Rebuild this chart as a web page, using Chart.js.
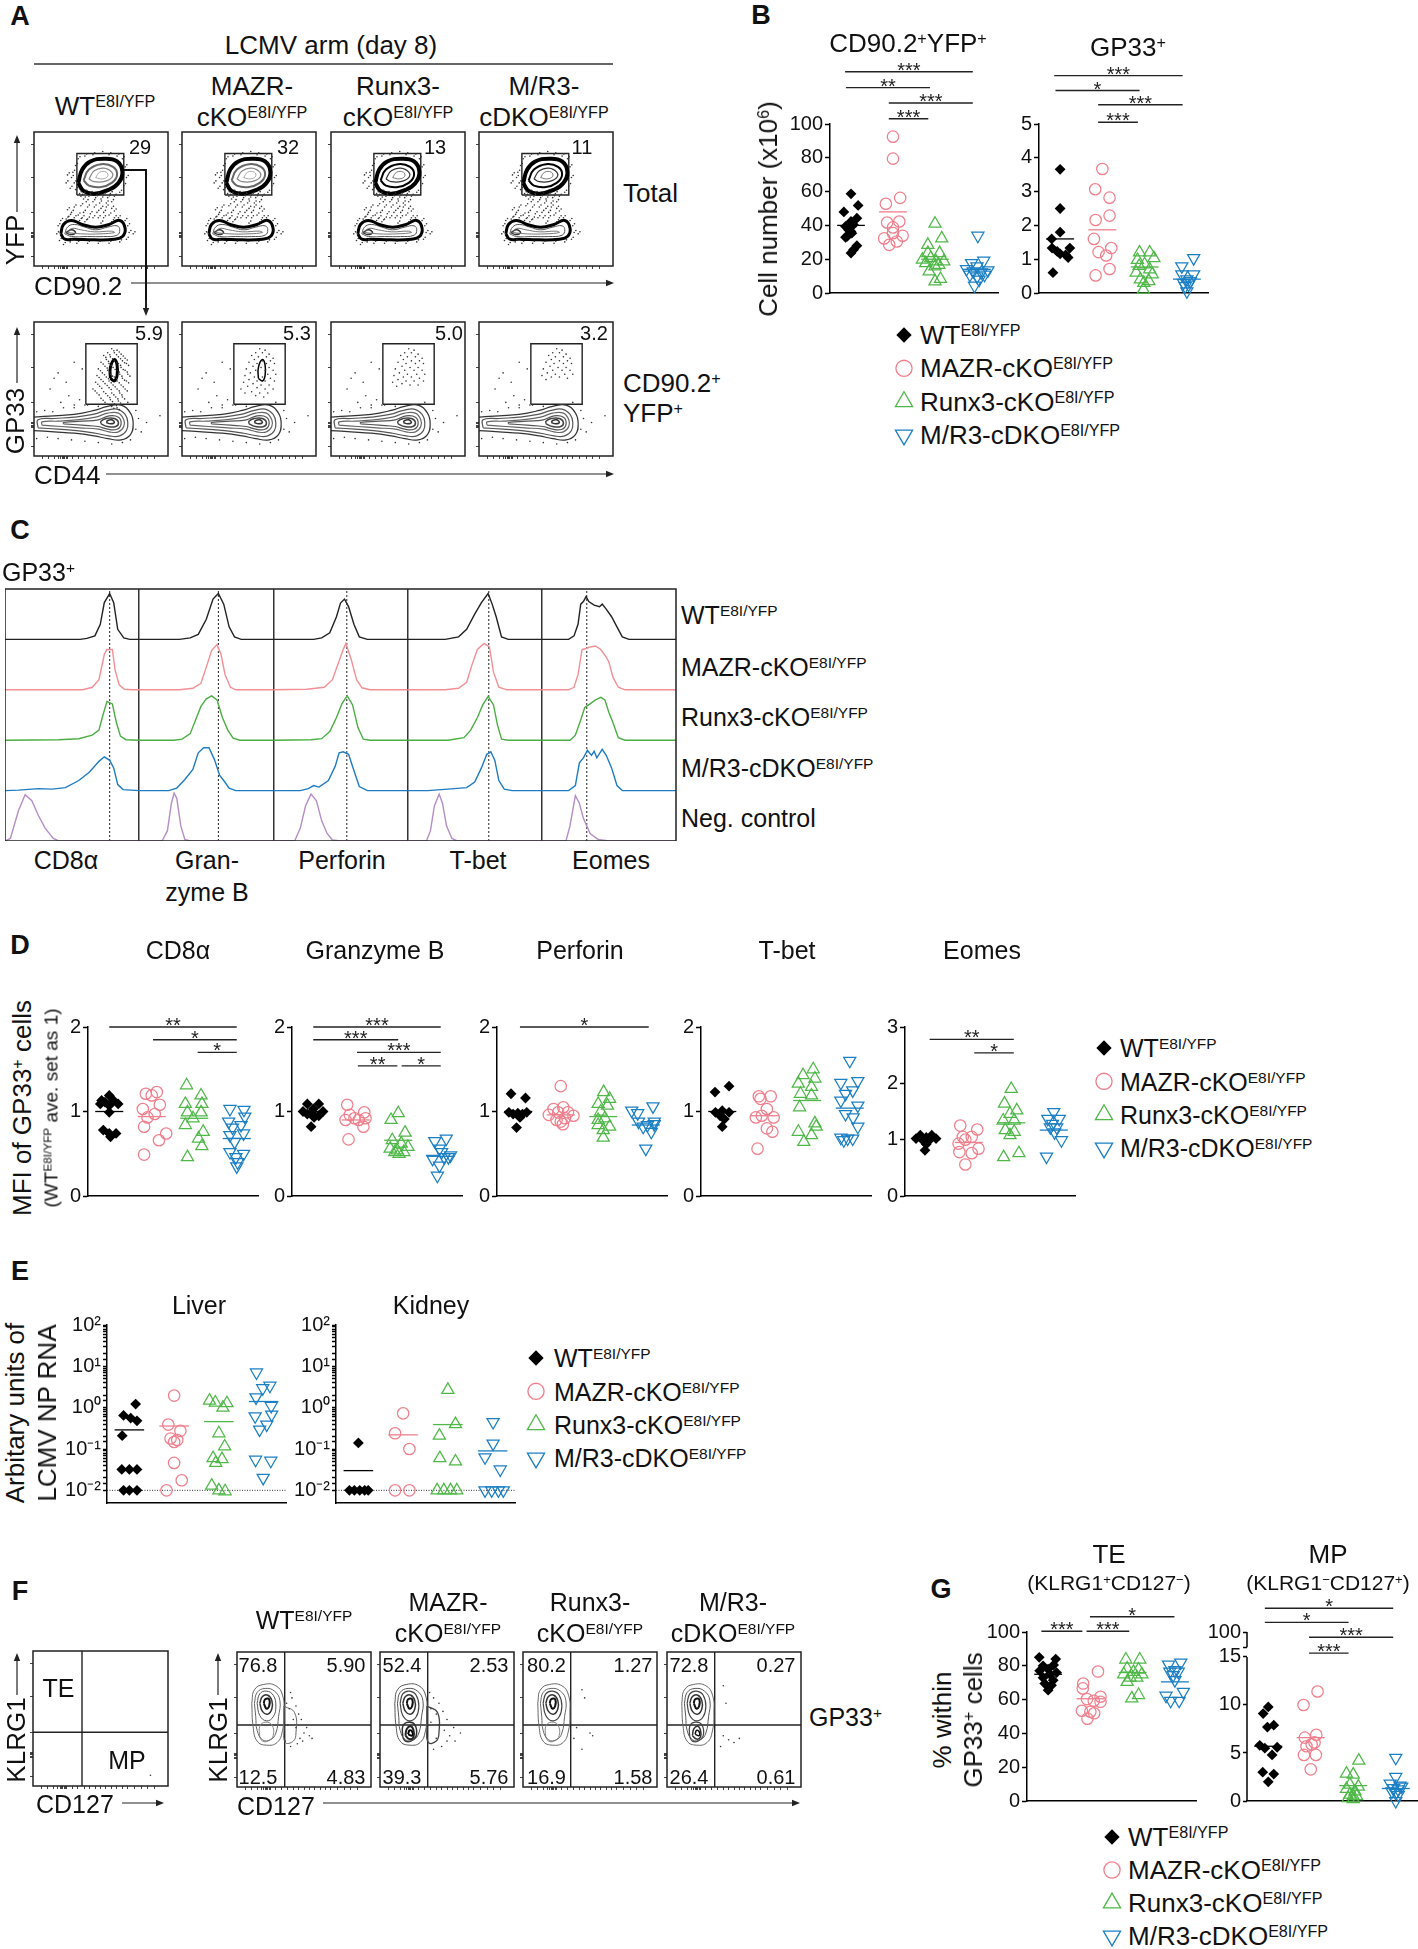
<!DOCTYPE html>
<html>
<head>
<meta charset="utf-8">
<title>LCMV arm figure</title>
<script src="https://cdn.jsdelivr.net/npm/chart.js@4/dist/chart.umd.min.js"></script>
<style>
  html, body { margin: 0; padding: 0; background: #fff; }
  #page { position: relative; width: 1418px; height: 1949px; overflow: hidden; font-family: "Liberation Sans", Arial, sans-serif; color: #111; }
  #page canvas { position: absolute; }
  #page svg { position: absolute; left: 0; top: 0; }
  .t { position: absolute; white-space: nowrap; line-height: 1; }
  .t sup { font-size: .62em; vertical-align: baseline; position: relative; top: -.5em; line-height: 0; }
</style>
</head>
<body>
<div id="page"></div>
<script>
// ---------- data: panel B, [offset from group centre, value] ----------
const bCellWt = [[0,58.7],[.17,51.8],[-.17,48],[.14,44.3],[0,42.3],[-.13,39.4],[.06,40.4],[-.06,37.4],[0,36.4],[-.09,33.5],[.02,35.4],[.14,28],[.06,25.6],[0,23.6],[-.13,33]];
const bCellMazr = [[0,92.5],[0,79.5],[.17,56.3],[-.17,52.8],[.15,42.3],[-.14,41.7],[0,38.8],[.23,33.9],[-.21,32.3],[.09,30.5],[-.09,28.5],[0,35.4]];
const bCellRunx = [[0,41],[.16,32.3],[-.17,28.5],[-.17,23.6],[.11,23.6],[-.3,19.7],[-.1,20.7],[.02,18.7],[.21,18.7],[-.22,17.7],[.09,16.7],[-.14,12.8],[.13,8.3],[0,6.9],[0,15.7]];
const bCellDko = [[.02,33.9],[-.13,17.7],[.16,19.1],[0,15.7],[-.25,14.2],[.26,13.4],[-.09,12.8],[.1,12.2],[-.17,10.8],[.18,10.8],[0,9.8],[-.06,4.3],[.05,7.9]];
const bCellMeans = [40,48,20,14];
const bCellSig = [[.86,3.9,130.9,'***'],[.88,2.88,121.5,'**'],[1.9,3.9,112.4,'***'],[1.9,2.84,103.1,'***']];
const bGpWt = [[0,3.66],[0,2.5],[0,1.8],[-.2,1.6],[-.19,1.33],[.23,1.33],[-.07,1.23],[.13,1.13],[.19,1.05],[0,1.16],[-.17,.6]];
const bGpMazr = [[0,3.67],[-.17,3.07],[.17,2.82],[.17,2.29],[-.16,2.16],[-.2,1.6],[.21,1.33],[-.09,1.21],[.09,1.11],[.17,.71],[-.16,.52]];
const bGpRunx = [[-.12,1.2],[.12,1.2],[.22,1.03],[-.17,.98],[0,.85],[-.13,.8],[.12,.7],[-.2,.6],[.18,.55],[-.1,.4],[.1,.35],[-.02,.3],[-.03,.1]];
const bGpDko = [[.16,1.03],[-.12,.79],[.16,.55],[-.12,.55],[0,.4],[.08,.35],[-.08,.3],[.04,.25],[0,.05],[-.04,.2]];
const bGpMeans = [1.6,1.87,.77,.41];
const bGpSig = [[.86,3.9,6.43,'***'],[.89,2.88,5.99,'*'],[1.9,3.9,5.57,'***'],[1.9,2.84,5.05,'***']];

// ---------- data: panel D ----------
const dCd8Wt = [[0,1.19],[-.18,1.13],[.21,1.09],[0,1.07],[-.1,1.11],[.1,1.13],[-.21,1.09],[0,.99],[-.14,.78],[0,.74],[.16,.74],[.03,.7]];
const dCd8Mazr = [[.12,1.23],[-.14,1.21],[0,1.19],[.19,1.08],[-.21,1.03],[.07,.97],[-.1,.93],[-.18,.82],[.34,.74],[.17,.66],[-.18,.49]];
const dCd8Runx = [[-.18,1.31],[.16,1.19],[-.21,1.09],[.18,1.09],[-.16,.99],[.16,.99],[-.03,.92],[-.21,.84],[.21,.76],[.1,.68],[.18,.59],[-.16,.46]];
const dCd8Dko = [[-.16,1.03],[.17,1.02],[.19,.94],[-.19,.88],[.1,.84],[-.1,.81],[-.16,.72],[.16,.74],[-.05,.64],[-.16,.52],[.16,.5],[-.02,.46],[.02,.4],[0,.35]];
const dCd8Means = [1,.94,.92,.68];
const dCd8Sig = [[1,4,2,'**'],[2.03,4,1.85,'*'],[3.08,4,1.7,'*']];
const dGzmWt = [[-.14,1.09],[.13,1.09],[0,1.03],[-.24,1],[.23,1],[-.03,.98],[.13,.95],[-.14,.97],[.02,.93],[-.05,.82]];
const dGzmMazr = [[-.2,1.08],[.2,.99],[-.14,.96],[-.03,.92],[.07,.9],[.23,.92],[-.24,.9],[.18,.82],[-.17,.67]];
const dGzmRunx = [[0,.98],[-.17,.9],[.16,.75],[-.14,.66],[.07,.62],[.23,.58],[-.19,.56],[-.08,.52],[.02,.5],[.13,.52],[-.03,.54]];
const dGzmDko = [[.13,.68],[-.14,.65],[-.03,.56],[.02,.52],[.18,.46],[-.19,.44],[.08,.46],[-.03,.36],[-.08,.24],[.23,.48]];
const dGzmMeans = [1,.9,.66,.47];
const dGzmSig = [[1,4,2,'***'],[1,3,1.85,'***'],[2.03,4,1.7,'***'],[2.05,2.98,1.54,'**'],[3.08,4,1.54,'*']];
const dPerfWt = [[-.17,1.21],[.17,1.16],[-.22,.99],[-.01,.98],[.2,.99],[-.12,.97],[.1,.97],[-.04,.81],[.04,.93]];
const dPerfMazr = [[0,1.3],[.06,1.05],[-.17,1.03],[-.06,.99],[.17,.99],[.3,.95],[-.28,.96],[.1,.92],[-.1,.9],[0,.88],[.05,.85]];
const dPerfRunx = [[.01,1.23],[.15,1.15],[-.12,1.09],[.1,1.07],[-.06,1],[-.12,.9],[.04,.92],[-.12,.84],[.15,.82],[0,.78],[0,.69]];
const dPerfDko = [[.17,1.06],[-.33,1.01],[-.19,.98],[.2,.88],[-.17,.88],[.04,.84],[-.06,.82],[.13,.76],[0,.56],[.2,.85]];
const dPerfMeans = [1,.96,.94,.84];
const dPerfSig = [[1.04,4.07,2,'*']];
const dTbetWt = [[.16,1.3],[-.17,1.23],[-.16,.99],[.16,.99],[0,1.01],[-.05,.95],[.05,.91],[0,.82]];
const dTbetMazr = [[-.14,1.18],[.14,1.18],[-.1,1.15],[.05,1.03],[-.21,.93],[.21,.93],[-.07,.95],[.05,.8],[.18,.76],[-.17,.56]];
const dTbetRunx = [[.14,1.5],[-.1,1.43],[.18,1.39],[-.21,1.33],[.1,1.29],[-.16,1.21],[.1,1.19],[-.18,1.05],[.18,.86],[.21,.82],[-.21,.76],[.1,.72],[-.08,.64]];
const dTbetDko = [[0,1.6],[-.21,1.34],[.19,1.36],[.07,1.25],[-.1,1.21],[-.21,1.13],[.19,1.07],[-.1,.97],[.08,.93],[.19,.82],[-.21,.69],[-.05,.68],[.07,.68],[-.14,.66]];
const dTbetMeans = [1,.95,1.13,1.04];
const dEomWt = [[-.14,1.08],[.13,1.08],[0,1.04],[-.24,1.02],[.23,1.02],[-.08,.99],[.07,.99],[-.03,.81],[0,.92]];
const dEomMazr = [[-.2,1.25],[.2,1.18],[-.14,1.05],[.07,1.05],[-.08,1],[-.24,.93],[.23,.84],[-.22,.78],[.07,.76],[-.08,.56]];
const dEomRunx = [[0,1.9],[-.16,1.64],[.13,1.52],[-.03,1.46],[-.19,1.34],[.07,1.34],[-.14,1.17],[.07,1.14],[-.03,1.08],[.18,.76],[-.18,.69]];
const dEomDko = [[0,1.49],[-.14,1.37],[.13,1.37],[-.03,1.28],[.07,1.22],[-.08,1.22],[.02,1.13],[.18,.99],[-.17,.7]];
const dEomMeans = [1,.95,1.3,1.17];
const dEomSig = [[1.08,3.06,2.78,'**'],[2.13,3.06,2.54,'*']];

// ---------- data: panel E ----------
const eLivWt = [[.14,1.22],[-.13,.65],[.03,.56],[.17,.48],[-.16,.21],[-.17,.032],[0,.032],[.17,.032],[-.13,.01],[0,.01],[.17,.01]];
const eLivMazr = [[0,1.96],[-.13,.39],[.14,.275],[-.08,.18],[.07,.165],[0,.148],[0,.046],[.17,.0175],[-.17,.01]];
const eLivRunx = [[-.21,1.48],[.18,1.28],[-.08,1.33],[.09,1],[0,.24],[.13,.115],[-.13,.06],[.07,.057],[-.07,.046],[-.16,.013],[0,.01],[.14,.0095]];
const eLivDko = [[-.16,7.1],[.14,3.4],[-.02,2.95],[-.17,1.77],[.17,1.1],[-.19,.62],[.18,.68],[.07,.39],[-.09,.295],[-.18,.055],[.16,.052],[-.01,.02]];
const eLivMeans = [.29,.36,.46,1.41];
const eKidWt = [[0,.14],[-.2,.01],[-.09,.01],[.03,.01],[.14,.01],[.22,.01]];
const eKidMazr = [[0,.73],[-.18,.24],[.14,.1],[-.18,.01],[.14,.01]];
const eKidRunx = [[0,2.7],[.17,.4],[-.19,.21],[-.18,.06],[.17,.05],[-.24,.01],[-.09,.01],[.06,.01],[.2,.01]];
const eKidDko = [[.01,.45],[.01,.135],[-.17,.063],[.17,.032],[-.17,.01],[-.02,.01],[.13,.01],[.24,.01]];
const eKidMeans = [.03,.22,.39,.09];
const eLogLabels = {'2':'10²','1':'10¹','0':'10⁰','-1':'10⁻¹','-2':'10⁻²'};

// ---------- data: panel G ----------
const gTeWt = [[-.21,85],[.18,84],[.13,80.5],[-.12,80],[0,78],[-.2,77],[.2,76],[.04,75],[-.12,73],[.12,71.5],[-.08,69.5],[.08,68.5],[0,65.6]];
const gTeMazr = [[.18,76.6],[-.17,69.5],[-.18,66.6],[.24,61.7],[-.08,60.3],[.08,59.3],[.24,58.7],[-.2,53.4],[.09,51.9],[0,52.8],[-.07,48.7]];
const gTeRunx = [[-.16,83.7],[.17,83.7],[-.13,78.4],[.14,77.8],[.02,76.4],[-.21,75],[.22,75],[-.06,73],[.1,73],[-.13,70.5],[.14,62.7],[-.02,60.7]];
const gTeDko = [[-.15,80.7],[.14,81.9],[0,77.4],[-.12,76.5],[.08,76.5],[-.04,74.5],[0,71.5],[-.21,62.3],[.2,64.6],[-.1,59.3],[.1,59.3]];
const gTeMeans = [75,60.5,76,70.5];
const gTeSig = [[.84,1.81,100.4,'***'],[1.91,2.92,100.4,'***'],[1.99,3.99,109,'*']];
const gMpWt = [[0,9.8],[-.12,9.1],[.13,7.9],[-.02,7.7],[-.2,5.8],[.21,5.6],[-.08,5.5],[.09,4.8],[-.13,3],[.13,2.8],[0,2]];
const gMpMazr = [[.16,11.4],[-.17,10],[.13,6.9],[-.14,6.6],[.09,6.1],[.02,5.9],[-.1,5.7],[.12,4.8],[-.16,4.8],[0,3.3]];
const gMpRunx = [[.13,4.2],[-.16,2.85],[0,2.75],[-.08,1.7],[.12,1.5],[-.16,1.25],[.04,1],[-.08,.66],[0,.5],[.08,.5],[-.12,.3],[0,.2]];
const gMpDko = [[0,4.5],[0,2.5],[-.13,1.8],[.1,1.6],[-.05,1.35],[.06,1.2],[.14,1.5],[-.09,1],[0,.85],[.06,.65],[0,0]];
const gMpMeans = [5.7,6.6,1.6,1.3];
const gMpSig = [[.92,3.94,20.08,'*'],[.92,2.89,18.6,'*'],[1.96,3.94,17.05,'***'],[1.96,2.89,15.4,'***']];
const gMpTicks = [0,5,10,15,16,17.6];
const gMpTickLabels = ['0','5','10','15','','100'];

// ---------- data: panel C histograms, [fraction of column, fraction of row] ----------
const histCd8Wt = [[0,0],[.56,0],[.61,.02],[.67,.07],[.71,.3],[.74,.73],[.78,.91],[.81,.73],[.84,.2],[.885,.03],[.93,0],[1,0]];
const histCd8Mazr = [[0,0],[.58,0],[.65,.05],[.7,.2],[.74,.7],[.76,.8],[.8,.8],[.82,.4],[.85,.1],[.89,.01],[.95,0],[1,0]];
const histCd8Runx = [[0,0],[.4,.01],[.55,.03],[.65,.1],[.7,.2],[.73,.5],[.76,.77],[.8,.72],[.83,.35],[.86,.08],[.9,.01],[1,0]];
const histCd8Dko = [[0,0],[.1,.01],[.25,.04],[.35,.03],[.45,.06],[.55,.2],[.63,.37],[.7,.58],[.74,.67],[.78,.6],[.81,.45],[.84,.12],[.88,.02],[1,0]];
const histCd8Neg = [[0,0],[.04,.05],[.1,.6],[.15,.92],[.2,.8],[.25,.5],[.3,.25],[.36,.05],[.4,0],[1,0]];
const histGzmWt = [[0,0],[.3,0],[.38,.03],[.44,.1],[.5,.4],[.55,.8],[.59,.91],[.63,.7],[.67,.25],[.71,.05],[.76,0],[1,0]];
const histGzmMazr = [[0,0],[.3,0],[.4,.03],[.46,.13],[.5,.45],[.54,.78],[.58,.9],[.61,.7],[.64,.3],[.68,.05],[.72,0],[1,0]];
const histGzmRunx = [[0,0],[.26,0],[.32,.02],[.38,.13],[.42,.4],[.46,.67],[.5,.82],[.54,.88],[.58,.8],[.62,.45],[.66,.2],[.7,.04],[.75,0],[1,0]];
const histGzmDko = [[0,0],[.22,0],[.28,.05],[.34,.22],[.4,.42],[.44,.75],[.48,.85],[.52,.85],[.56,.62],[.6,.3],[.63,.2],[.67,.05],[.72,0],[1,0]];
const histGzmNeg = [[0,0],[.17,0],[.21,.2],[.24,.75],[.26,.95],[.28,.85],[.31,.3],[.34,.03],[.38,0],[1,0]];
const histPrfWt = [[0,0],[.3,0],[.36,.03],[.42,.13],[.47,.45],[.5,.72],[.53,.8],[.56,.65],[.6,.3],[.64,.05],[.7,0],[1,0]];
const histPrfMazr = [[0,0],[.25,.01],[.38,.05],[.44,.2],[.48,.5],[.52,.8],[.54,.92],[.58,.6],[.62,.2],[.66,.04],[.72,0],[1,0]];
const histPrfRunx = [[0,0],[.28,.01],[.36,.03],[.42,.17],[.47,.45],[.51,.72],[.55,.88],[.59,.7],[.63,.25],[.67,.02],[.72,0],[1,0]];
const histPrfDko = [[0,0],[.2,0],[.26,.04],[.3,.1],[.34,.07],[.41,.2],[.46,.48],[.49,.75],[.52,.77],[.56,.72],[.6,.4],[.64,.08],[.7,0],[1,0]];
const histPrfNeg = [[0,0],[.16,.01],[.2,.25],[.24,.7],[.28,.93],[.32,.8],[.36,.4],[.4,.15],[.44,.02],[.5,0],[1,0]];
const histTbtWt = [[0,0],[.28,0],[.38,.05],[.44,.2],[.5,.5],[.55,.73],[.6,.91],[.63,.7],[.66,.45],[.7,.05],[.75,0],[1,0]];
const histTbtMazr = [[0,0],[.28,0],[.38,.03],[.44,.15],[.48,.5],[.52,.8],[.57,.92],[.61,.85],[.64,.35],[.68,.05],[.74,0],[1,0]];
const histTbtRunx = [[0,0],[.3,0],[.42,.05],[.47,.2],[.52,.45],[.56,.7],[.6,.87],[.64,.7],[.67,.3],[.7,.02],[.75,0],[1,0]];
const histTbtDko = [[0,0],[.15,0],[.3,.03],[.44,.06],[.5,.17],[.55,.45],[.59,.72],[.62,.77],[.65,.6],[.68,.2],[.72,.03],[.78,0],[1,0]];
const histTbtNeg = [[0,0],[.14,0],[.17,.2],[.2,.7],[.235,.93],[.26,.75],[.29,.3],[.33,.05],[.37,0],[1,0]];
const histEomWt = [[0,0],[.2,0],[.24,.07],[.27,.3],[.29,.7],[.31,.75],[.33,.85],[.35,.75],[.39,.68],[.43,.65],[.45,.7],[.48,.6],[.52,.45],[.56,.25],[.6,.05],[.65,0],[1,0]];
const histEomMazr = [[0,0],[.2,0],[.24,.05],[.27,.3],[.3,.8],[.33,.82],[.36,.85],[.4,.87],[.44,.8],[.48,.65],[.5,.55],[.53,.25],[.57,.05],[.62,0],[1,0]];
const histEomRunx = [[0,0],[.21,0],[.25,.1],[.29,.4],[.32,.65],[.36,.72],[.4,.8],[.44,.85],[.47,.8],[.5,.55],[.53,.35],[.57,.05],[.62,0],[1,0]];
const histEomDko = [[0,0],[.2,0],[.25,.1],[.28,.55],[.31,.65],[.34,.8],[.37,.7],[.39,.78],[.41,.65],[.45,.82],[.48,.7],[.52,.45],[.56,.1],[.6,0],[1,0]];
const histEomNeg = [[0,0],[.18,0],[.21,.3],[.25,.9],[.28,.75],[.31,.45],[.36,.15],[.42,.03],[.5,0],[1,0]];
const histDashes = [.78,.59,.547,.605,.335];
const histColors = ['#222222','#f48f96','#4bae43','#1e7cc2','#b48ec4'];

// ---------- data: flow plots, axes run 0-100 ----------
const flowTicksX = [6,11,15,18,20,21,22,23,24,25,29,33,38,42,46,50,54,58,62,66,70,75,80,85,90];
const flowTicksY = [7,21,22,23,24,25,40,66,91];
const aTopGate = [[32,53],[67,53],[67,84],[32,84],[32,53]];
const aGpGate = [[38.7,38.6],[77,38.6],[77,83.8],[38.7,83.8],[38.7,38.6]];
const aTopRing1 = [[33,62],[36,72],[42,78],[52,80],[62,78],[66,70],[63,62],[56,57],[45,54],[37,56],[33,62]];
const aTopRing2 = [[37,64],[41,72],[50,76],[59,74],[62,68],[58,62],[50,59],[41,60],[37,64]];
const aTopRing3 = [[41,65],[45,71],[52,73],[58,70],[58,66],[52,63],[45,63],[41,65]];
const aTopRing4 = [[46,66],[49,70],[54,70],[55,67],[51,65],[46,66]];
const aLowRing1 = [[20,24],[22,31],[28,34],[36,31],[46,29],[56,31],[64,34],[68,28],[66,22],[60,20],[45,19.5],[30,20],[23,20],[20,24]];
const aLowRing2 = [[23,24],[25,29],[30,31],[38,29],[46,27],[55,29],[62,30],[64,27],[62,23],[52,22],[40,22],[28,22],[23,24]];
const aLowRing3 = [[25,25],[28,28],[35,27],[45,25.5],[58,26],[60,25],[50,24],[35,24],[25,25]];
const aLowRing4 = [[24,25],[28,27],[31,25],[27,23.5],[24,25]];
const aCometRing1 = [[0,19],[15,18],[30,17],[45,15],[55,13],[65,12],[72,16],[74,24],[72,32],[65,38],[55,37],[45,34],[30,31],[15,30],[0,29]];
const aCometRing2 = [[3,21],[18,20],[32,19],[46,17],[56,15],[64,15],[69,19],[70,25],[68,31],[62,35],[54,34],[44,31],[30,29],[15,28],[3,27],[3,21]];
const aCometRing3 = [[6,23],[20,22],[34,21],[48,20],[56,18],[63,18],[67,22],[67,27],[63,32],[55,32],[46,29],[32,27],[18,26],[6,25.5],[6,23]];
const aCometRing4 = [[22,24],[36,23],[48,22],[55,20],[62,20],[65,24],[63,29],[56,30],[48,27],[36,26],[22,25],[22,24]];
const aCometRing5 = [[50,24],[55,22],[61,22],[63,25],[60,28],[54,28],[50,26],[50,24]];
const aCometRing6 = [[54,25],[57,24],[60,25],[58,27],[55,26.5],[54,25]];
const aGpHot = [[57,58],[57,66],[60,72],[62,68],[62,60],[60,56],[57,58]];
const aTopDots = [[30,62],[29,70],[28,66],[31,75],[33,80],[38,82],[44,83],[50,84],[56,83],[62,82],[66,80],[68,74],[69,66],[67,60],[64,55],[60,52],[55,51],[50,50],[46,51],[41,52],[37,50],[34,54],[31,57],[27,58],[25,68],[24,62],[35,52],[39,48],[44,48],[49,47],[54,47],[58,48],[47,53],[52,53],[57,54],[42,54],[38,55],[35,45],[40,44],[45,44],[50,43],[54,44],[58,43],[37,40],[42,39],[47,40],[52,40],[56,38],[60,41],[33,38],[28,40],[25,42],[30,44],[48,36],[44,36],[52,36],[40,35],[36,36],[60,36],[18,30],[17,24],[19,19],[22,16],[26,37],[24,35],[30,36],[34,34],[38,33],[50,32],[58,33],[63,36],[68,34],[70,30],[71,25],[69,20],[64,18],[56,17],[48,17],[40,17],[32,17],[27,18],[74,24],[20,34]];
const aGpDots = [[58,80],[62,79],[55,77],[60,77],[65,76],[52,75],[57,74],[63,74],[68,73],[54,72],[60,71],[66,71],[50,70],[56,69],[63,69],[69,69],[53,67],[59,66],[65,66],[48,65],[55,64],[62,64],[68,64],[51,62],[57,61],[64,61],[70,61],[47,60],[54,59],[60,59],[66,58],[50,57],[56,56],[62,56],[69,56],[46,55],[53,54],[59,53],[65,53],[49,52],[56,51],[62,50],[68,50],[44,50],[52,48],[58,47],[64,47],[47,47],[55,45],[61,44],[66,44],[50,43],[57,42],[63,41],[53,40],[60,39],[58,37],[62,36]];
const aGpOuterDots = [[18,62],[15,58],[24,55],[30,70],[36,65],[12,50],[26,45],[34,42],[84,25],[94,30],[80,18],[20,40],[30,38],[40,38],[48,37],[2,33],[8,34],[14,33],[22,36],[30,36],[38,38],[2,13],[10,14],[18,13],[28,12],[38,11],[48,10],[58,9],[66,10],[72,12],[76,20],[78,28],[76,34],[70,40]];
const aGpDotCounts = [58,50,40,32];
const aTopLabels = ['29','32','13','11'];
const aGpLabels = ['5.9','5.3','5.0','3.2'];

const fQuadV = [[35.6,0],[35.6,100]];
const fQuadH = [[0,45.9],[100,45.9]];
const fSchematicV = [[36.3,0],[36.3,100]];
const fSchematicH = [[0,39.8],[100,39.8]];
const fSchematicDots = [[87,8]];
const fOuter = [[11,62],[13,72],[20,76],[29,75],[34,68],[35,55],[34,42],[30,33],[22,31],[15,34],[12,45],[11,62]];
const fMid = [[13,62],[15,70],[21,73],[28,71],[32,64],[31,52],[29,40],[25,35],[19,35],[15,42],[14,52],[13,62]];
const fUp1 = [[15,62],[17,69],[22,71],[27,68],[29,60],[27,52],[22,49],[17,53],[15,62]];
const fUp2 = [[17,62],[19,67],[23,68],[26,64],[26,58],[23,54],[19,56],[17,62]];
const fUp3 = [[20,62],[21,65],[24,65],[24,60],[22,58],[20,62]];
const fLow1 = [[17,37],[17,45],[21,48],[26,46],[27,38],[23,34],[19,34],[17,37]];
const fLow2 = [[19,38],[20,43],[23,45],[25,42],[25,37],[22,35.5],[19,38]];
const fLow3 = [[21,39],[22,42],[24,41],[24,38],[21,39]];
const fRight = [[35,60],[43,55],[44,40],[42,34],[36,33],[35,45],[35,60]];
const fWtDots = [[37,62],[39,58],[41,66],[44,60],[46,54],[48,50],[42,50],[50,40],[52,44],[47,36],[44,44],[38,46],[54,38],[56,36],[40,70],[36,34],[40,30],[45,32],[49,34]];
const fMazrDots = [[37,70],[40,66],[44,62],[38,58],[42,54],[47,56],[50,50],[38,48],[44,46],[48,42],[52,38],[55,44],[42,36],[46,30],[50,34],[56,34],[60,40],[40,28]];
const fRunxDots = [[44,72],[46,66],[40,44],[50,40],[52,38],[38,36],[44,28]];
const fDkoDots = [[42,75],[44,62],[42,38],[46,35],[50,33],[54,36],[40,30]];
const fQuadLabels = [['76.8','5.90','12.5','4.83'],['52.4','2.53','39.3','5.76'],['80.2','1.27','16.9','1.58'],['72.8','0.27','26.4','0.61']];

// ---------- helpers ----------
const FONT = '"Liberation Sans", Arial, sans-serif';
const page = document.getElementById('page');
const geno = name => name + '<sup>E8I/YFP</sup>';
Chart.defaults.font.family = FONT;
Chart.defaults.color = '#111';

const groupStyles = [
  { color: '#000000', pointStyle: 'rectRot', radius: 5.4, rotation: 0, fill: '#000000' },
  { color: '#ef7f8c', pointStyle: 'circle', radius: 5.7, rotation: 0, fill: 'rgba(0,0,0,0)' },
  { color: '#4fb848', pointStyle: 'triangle', radius: 7, rotation: 0, fill: 'rgba(0,0,0,0)' },
  { color: '#1b7fc4', pointStyle: 'triangle', radius: 7, rotation: 180, fill: 'rgba(0,0,0,0)' }
];

function label(html, x, y, size, opts = {}) {
  const el = document.createElement('div');
  el.className = 't';
  el.innerHTML = html;
  el.style.left = x + 'px';
  el.style.top = y + 'px';
  el.style.fontSize = size + 'px';
  if (opts.bold) el.style.fontWeight = 'bold';
  if (opts.rot) el.style.transform = 'translate(-50%,-50%) rotate(-90deg)';
  else if (opts.left) el.style.transform = 'translate(0,-50%)';
  else el.style.transform = 'translate(-50%,-50%)';
  page.appendChild(el);
}

function makeCanvas(x, y, w, h) {
  const c = document.createElement('canvas');
  c.width = w; c.height = h;
  c.style.left = x + 'px'; c.style.top = y + 'px';
  c.style.width = w + 'px'; c.style.height = h + 'px';
  page.appendChild(c);
  return c.getContext('2d');
}

function baseOptions(padding, scales) {
  return {
    responsive: false, animation: false, events: [],
    layout: { autoPadding: false, padding },
    plugins: { legend: { display: false }, title: { display: false }, tooltip: { enabled: false } },
    scales
  };
}

function lineSet(points, color, width, extra = {}) {
  return Object.assign({
    data: points.map(p => ({ x: p[0], y: p[1] })),
    showLine: true, pointRadius: 0, borderColor: color, borderWidth: width,
    backgroundColor: 'transparent', clip: false
  }, extra);
}

// asterisks over the significance bars
const sigStars = sig => ({
  id: 'sigStars',
  afterDatasetsDraw(chart) {
    const { ctx, scales } = chart;
    ctx.save();
    ctx.font = '20px ' + FONT;
    ctx.fillStyle = '#222';
    ctx.textAlign = 'center';
    sig.forEach(s => {
      const px = scales.x.getPixelForValue((s[0] + s[1]) / 2);
      ctx.fillText(s[3], px, scales.y.getPixelForValue(s[2]) + 5);
    });
    ctx.restore();
  }
});

const frame = {
  id: 'frame',
  afterDatasetsDraw(chart) {
    const a = chart.chartArea, ctx = chart.ctx;
    ctx.save();
    ctx.strokeStyle = '#222';
    ctx.lineWidth = 1.5;
    ctx.strokeRect(a.left, a.top, a.right - a.left, a.bottom - a.top);
    ctx.restore();
  }
};

function dotPlot(box, groups, means, sig, y, extra = {}) {
  const padL = 50, padT = 80, padB = 18, padR = 1;
  const ctx = makeCanvas(box.x - padL, box.y - padT, box.w + padL + padR, box.h + padT + padB);
  const datasets = [];
  groups.forEach((g, i) => {
    const st = groupStyles[i];
    datasets.push({
      data: g.map(p => ({ x: i + 1 + p[0], y: p[1] })),
      pointStyle: st.pointStyle, pointRadius: st.radius, pointRotation: st.rotation,
      pointBackgroundColor: st.fill, pointBorderColor: st.color, pointBorderWidth: i === 0 ? 0 : 1.25,
      showLine: false, clip: false
    });
  });
  means.forEach((m, i) => {
    datasets.push(lineSet([[i + .67, m], [i + 1.33, m]], groupStyles[i].color, 1.3));
  });
  (sig || []).forEach(s => datasets.push(lineSet([[s[0], s[2]], [s[1], s[2]]], '#222', 1.4)));
  (extra.lines || []).forEach(l => datasets.push(l));

  const yScale = {
    type: y.type || 'linear', min: y.min, max: y.max,
    afterFit: s => { s.width = padL; },
    border: { display: y.border !== false, color: '#000', width: 1.5 },
    grid: { drawOnChartArea: false, drawTicks: true, tickLength: y.tickLength || 5, tickColor: y.tickColor || '#000', tickWidth: 1.5 },
    ticks: { stepSize: y.step, autoSkip: false, maxRotation: 0, padding: 2, color: '#111', font: { size: 20 }, callback: y.callback }
  };
  if (y.ticksAt) yScale.afterBuildTicks = s => { s.ticks = y.ticksAt.map(v => ({ value: v })); };

  return new Chart(ctx, {
    type: 'scatter',
    data: { datasets },
    options: baseOptions({ top: padT, right: padR, bottom: padB, left: 0 }, {
      x: {
        type: 'linear', min: .5, max: 4.5,
        afterFit: s => { s.height = 0; },
        grid: { display: false },
        border: { display: true, color: '#000', width: 1.5 },
        ticks: { display: false }
      },
      y: yScale
    }),
    plugins: [sigStars(sig || [])]
  });
}

function flowPlot(box, rings, dots, lines) {
  const padL = 6, padB = 6;
  const ctx = makeCanvas(box.x - padL, box.y - 1, box.w + padL + 1, box.h + padB + 1);
  const datasets = [{
    data: dots.map(p => ({ x: p[0], y: p[1] })),
    pointRadius: .8, pointStyle: 'circle', pointBackgroundColor: '#333', pointBorderWidth: 0, showLine: false
  }];
  rings.forEach(r => datasets.push(lineSet(r[0], r[1], r[2], { tension: .45 })));
  lines.forEach(l => datasets.push(lineSet(l, '#222', 1.4)));
  return new Chart(ctx, {
    type: 'scatter',
    data: { datasets },
    options: baseOptions({ top: 1, right: 1, bottom: padB, left: 0 }, {
      x: {
        type: 'linear', min: 0, max: 100,
        afterBuildTicks: s => { s.ticks = flowTicksX.map(v => ({ value: v })); },
        afterFit: s => { s.height = 0; },
        grid: { drawOnChartArea: false, tickLength: 3, tickColor: '#444', tickWidth: 1 },
        border: { display: false },
        ticks: { display: false, autoSkip: false }
      },
      y: {
        type: 'linear', min: 0, max: 100,
        afterBuildTicks: s => { s.ticks = flowTicksY.map(v => ({ value: v })); },
        afterFit: s => { s.width = padL; },
        grid: { drawOnChartArea: false, tickLength: 3, tickColor: '#444', tickWidth: 1 },
        border: { display: false },
        ticks: { display: false, autoSkip: false }
      }
    }),
    plugins: [frame]
  });
}

function legendBlock(markerX, textX, rowY, size) {
  const gap = (rowY[3] - rowY[0]) / 3;
  const ctx = makeCanvas(markerX - 14, rowY[0] - 14, 28, gap * 3 + 28);
  new Chart(ctx, {
    type: 'scatter',
    data: {
      datasets: groupStyles.map((st, i) => ({
        data: [{ x: 0, y: i }],
        pointStyle: st.pointStyle, pointRadius: st.radius * 1.42, pointRotation: st.rotation,
        pointBackgroundColor: st.fill, pointBorderColor: st.color, pointBorderWidth: i === 0 ? 0 : 1.3,
        clip: false
      }))
    },
    options: baseOptions({ top: 14, right: 14, bottom: 14, left: 14 }, {
      x: { display: false, type: 'linear', min: -1, max: 1 },
      y: { display: false, type: 'linear', min: 0, max: 3, reverse: true }
    })
  });
  ['WT', 'MAZR-cKO', 'Runx3-cKO', 'M/R3-cDKO'].forEach((n, i) => label(geno(n), textX, rowY[i], size, { left: true }));
}

function arrow(x1, y1, x2, y2, width = 1.2) {
  const hx = x2 === x1 ? 0 : Math.sign(x2 - x1), hy = y2 === y1 ? 0 : Math.sign(y2 - y1);
  const len = 8, half = 3.2;
  const pts = `${x2},${y2} ${x2 - hx * len - hy * half},${y2 - hy * len - hx * half} ${x2 - hx * len + hy * half},${y2 - hy * len + hx * half}`;
  return `<line x1="${x1}" y1="${y1}" x2="${x2 - hx * 4}" y2="${y2 - hy * 4}" stroke="#222" stroke-width="${width}"/><polygon points="${pts}" fill="#222"/>`;
}

// ---------- panel letters ----------
[['A', 20, 16], ['B', 761, 15], ['C', 20, 530], ['D', 20, 945], ['E', 20, 1271], ['F', 20, 1591], ['G', 941, 1589]]
  .forEach(l => label(l[0], l[1], l[2], 27, { bold: true }));

// ---------- panel A ----------
const aCols = [34, 182, 331, 479];
label('LCMV arm (day 8)', 331, 45, 26);
label(geno('WT'), 105, 106, 26);
[['MAZR-', 'cKO', 252], ['Runx3-', 'cKO', 398], ['M/R3-', 'cDKO', 544]].forEach(h => {
  label(h[0], h[2], 86, 26);
  label(geno(h[1]), h[2], 117, 26);
});
const topInner = ['#666', '#888', '#aaa'];
const topInnerDark = ['#000', '#333', '#777'];
aCols.forEach((x, i) => {
  const inner = i < 2 ? topInner : topInnerDark;
  const topDots = aTopDots.concat(aTopDots.map(p => [p[0] + 1.3, p[1] + 1.5]));
  flowPlot({ x, y: 132, w: 134, h: 134 }, [
    [aLowRing1, '#000', 3], [aLowRing2, '#555', 1], [aLowRing3, '#777', 1], [aLowRing4, '#333', 1.5],
    [aTopRing1, '#000', 4], [aTopRing2, inner[0], 2], [aTopRing3, inner[1], 1.2], [aTopRing4, inner[2], 1]
  ], topDots, [aTopGate]);
  const gateDots = aGpDots.slice(0, aGpDotCounts[i]);
  const dots = (i === 0 ? gateDots.concat(gateDots.map(p => [p[0] + 1.6, p[1] - 1.4])) : gateDots).concat(aGpOuterDots);
  const rings = [
    [aCometRing1, '#333', 1.2], [aCometRing2, '#555', 1.2], [aCometRing3, '#666', 1.2],
    [aCometRing4, '#555', 1.2], [aCometRing5, '#444', 1.5], [aCometRing6, '#333', 1.5]
  ];
  if (i < 2) rings.push([aGpHot, '#000', i === 0 ? 3 : 1.5]);
  flowPlot({ x, y: 322, w: 134, h: 134 }, rings, dots, [aGpGate]);
  label(aTopLabels[i], [140, 288, 435, 582][i], 147, 20);
  label(aGpLabels[i], [149, 297, 449, 594][i], 333, 20);
});
label('Total', 623, 193, 26, { left: true });
label('CD90.2<sup>+</sup>', 623, 383, 26, { left: true });
label('YFP<sup>+</sup>', 623, 413, 26, { left: true });
label('YFP', 15, 240, 26, { rot: true });
label('GP33', 15, 421, 26, { rot: true });
label('CD90.2', 34, 286, 26, { left: true });
label('CD44', 34, 475, 26, { left: true });

// ---------- panel B ----------
dotPlot({ x: 830, y: 124, w: 168, h: 169 }, [bCellWt, bCellMazr, bCellRunx, bCellDko], bCellMeans, bCellSig, { min: 0, max: 100, step: 20 });
dotPlot({ x: 1039, y: 124, w: 169, h: 169 }, [bGpWt, bGpMazr, bGpRunx, bGpDko], bGpMeans, bGpSig, { min: 0, max: 5, step: 1 });
label('CD90.2<sup>+</sup>YFP<sup>+</sup>', 908, 43, 26);
label('GP33<sup>+</sup>', 1128, 47, 26);
label('Cell number (x10<sup>6</sup>)', 768, 209, 26, { rot: true });
legendBlock(904, 920, [335, 368, 402, 435], 26);

// ---------- panel C ----------
const histCols = [
  [histCd8Wt, histCd8Mazr, histCd8Runx, histCd8Dko, histCd8Neg],
  [histGzmWt, histGzmMazr, histGzmRunx, histGzmDko, histGzmNeg],
  [histPrfWt, histPrfMazr, histPrfRunx, histPrfDko, histPrfNeg],
  [histTbtWt, histTbtMazr, histTbtRunx, histTbtDko, histTbtNeg],
  [histEomWt, histEomMazr, histEomRunx, histEomDko, histEomNeg]
];
const histSets = [];
histCols.forEach((col, c) => {
  col.forEach((h, r) => histSets.push(lineSet(h.map(p => [c + p[0], 4 - r + p[1]]), histColors[r], 1.4)));
  histSets.push(lineSet([[c + histDashes[c], 0], [c + histDashes[c], 5]], '#222', 1, { borderDash: [2, 2] }));
});
new Chart(makeCanvas(5, 588, 672, 253), {
  type: 'scatter',
  data: { datasets: histSets },
  options: baseOptions({ top: 1, right: 1, bottom: 0, left: 0 }, {
    x: {
      type: 'linear', min: 0, max: 5,
      afterBuildTicks: s => { s.ticks = [1, 2, 3, 4].map(v => ({ value: v })); },
      afterFit: s => { s.height = 0; },
      grid: { color: '#333', lineWidth: 1.5, drawTicks: false },
      border: { display: false }, ticks: { display: false }
    },
    y: {
      type: 'linear', min: 0, max: 5,
      afterFit: s => { s.width = 0; },
      grid: { display: false }, border: { display: false }, ticks: { display: false }
    }
  }),
  plugins: [frame]
});
label('GP33<sup>+</sup>', 2, 572, 25, { left: true });
label(geno('WT'), 681, 615, 25, { left: true });
label(geno('MAZR-cKO'), 681, 667, 25, { left: true });
label(geno('Runx3-cKO'), 681, 717, 25, { left: true });
label(geno('M/R3-cDKO'), 681, 768, 25, { left: true });
label('Neg. control', 681, 818, 25, { left: true });
label('CD8α', 66, 860, 25);
label('Gran-', 207, 860, 25);
label('zyme B', 207, 892, 25);
label('Perforin', 342, 860, 25);
label('T-bet', 478, 860, 25);
label('Eomes', 611, 860, 25);

// ---------- panel D ----------
const dY2 = { min: 0, max: 2, step: 1 };
dotPlot({ x: 88, y: 1027, w: 170, h: 169 }, [dCd8Wt, dCd8Mazr, dCd8Runx, dCd8Dko], dCd8Means, dCd8Sig, dY2);
dotPlot({ x: 292, y: 1027, w: 170, h: 169 }, [dGzmWt, dGzmMazr, dGzmRunx, dGzmDko], dGzmMeans, dGzmSig, dY2);
dotPlot({ x: 497, y: 1027, w: 170, h: 169 }, [dPerfWt, dPerfMazr, dPerfRunx, dPerfDko], dPerfMeans, dPerfSig, dY2);
dotPlot({ x: 701, y: 1027, w: 170, h: 169 }, [dTbetWt, dTbetMazr, dTbetRunx, dTbetDko], dTbetMeans, [], dY2);
dotPlot({ x: 905, y: 1027, w: 170, h: 169 }, [dEomWt, dEomMazr, dEomRunx, dEomDko], dEomMeans, dEomSig, { min: 0, max: 3, step: 1 });
[['CD8α', 178], ['Granzyme B', 375], ['Perforin', 580], ['T-bet', 787], ['Eomes', 982]].forEach(t => label(t[0], t[1], 950, 25));
label('MFI of GP33<sup>+</sup> cells', 22, 1108, 26, { rot: true });
label('(WT<sup>E8I/YFP</sup> ave. set as 1)', 51, 1108, 19, { rot: true });
legendBlock(1104, 1120, [1048, 1082, 1115, 1148], 25);

// ---------- panel E ----------
const logY = {
  type: 'logarithmic', min: .00494, max: 100, tickLength: 4,
  tickColor: c => (c.tick && c.tick.value < .0099 ? 'rgba(0,0,0,0)' : '#000'),
  callback: v => {
    const e = Math.log10(v), r = Math.round(e);
    return Math.abs(e - r) < 1e-6 ? eLogLabels[r] : '';
  }
};
const limitLine = () => lineSet([[.5, .01], [4.5, .01]], '#333', 1, { borderDash: [1, 1.5] });
dotPlot({ x: 107, y: 1325, w: 179, h: 178 }, [eLivWt, eLivMazr, eLivRunx, eLivDko], eLivMeans, [], logY, { lines: [limitLine()] });
dotPlot({ x: 336, y: 1325, w: 179, h: 178 }, [eKidWt, eKidMazr, eKidRunx, eKidDko], eKidMeans, [], logY, { lines: [limitLine()] });
label('Liver', 199, 1305, 25);
label('Kidney', 431, 1305, 25);
label('Arbitary units of', 15, 1413, 26, { rot: true });
label('LCMV NP RNA', 47, 1413, 26, { rot: true });
legendBlock(536, 554, [1358, 1392, 1425, 1458], 25);

// ---------- panel F ----------
flowPlot({ x: 33, y: 1651, w: 135, h: 135 }, [], fSchematicDots, [fSchematicV, fSchematicH]);
const fCols = [236.5, 380, 523, 667];
const fRings = [
  [[fOuter, '#666', 1], [fMid, '#666', 1], [fUp1, '#555', 1], [fUp2, '#333', 1.5], [fUp3, '#111', 2], [fLow1, '#888', 1], [fRight, '#666', 1]],
  [[fOuter, '#555', 1], [fMid, '#555', 1], [fUp1, '#444', 1.2], [fUp2, '#333', 1.5], [fUp3, '#111', 2], [fLow1, '#333', 1.5], [fLow2, '#222', 2], [fLow3, '#000', 2], [fRight, '#444', 1.3]],
  [[fOuter, '#666', 1], [fMid, '#666', 1], [fUp1, '#444', 1.2], [fUp2, '#333', 1.5], [fUp3, '#111', 2], [fLow1, '#888', 1]],
  [[fOuter, '#666', 1], [fMid, '#555', 1], [fUp1, '#444', 1.2], [fUp2, '#333', 1.5], [fUp3, '#111', 2], [fLow1, '#444', 1.2], [fLow2, '#333', 1.5], [fLow3, '#111', 1.5]]
];
const fDots = [fWtDots, fMazrDots, fRunxDots, fDkoDots];
const fLeftText = [258, 402, 546.5, 689];
const fRightText = [346, 489, 633, 776];
fCols.forEach((x, i) => {
  flowPlot({ x: Math.round(x), y: 1652, w: 134, h: 135 }, fRings[i], fDots[i], [fQuadV, fQuadH]);
  label(fQuadLabels[i][0], fLeftText[i], 1665, 20);
  label(fQuadLabels[i][1], fRightText[i], 1665, 20);
  label(fQuadLabels[i][2], fLeftText[i], 1777, 20);
  label(fQuadLabels[i][3], fRightText[i], 1777, 20);
});
label('TE', 58.5, 1688, 25);
label('MP', 127, 1760, 25);
label(geno('WT'), 304, 1620, 25);
[['MAZR-', 'cKO', 448], ['Runx3-', 'cKO', 590], ['M/R3-', 'cDKO', 733]].forEach(h => {
  label(h[0], h[2], 1602, 25);
  label(geno(h[1]), h[2], 1633, 25);
});
label('KLRG1', 16, 1740, 26, { rot: true });
label('KLRG1', 218, 1740, 26, { rot: true });
label('CD127', 36, 1804, 25, { left: true });
label('CD127', 237, 1806, 25, { left: true });
label('GP33<sup>+</sup>', 809, 1717, 25, { left: true });

// ---------- panel G ----------
dotPlot({ x: 1027, y: 1632, w: 169, h: 169 }, [gTeWt, gTeMazr, gTeRunx, gTeDko], gTeMeans, gTeSig, { min: 0, max: 100, step: 20 });
dotPlot({ x: 1247, y: 1632, w: 170, h: 169 }, [gMpWt, gMpMazr, gMpRunx, gMpDko], gMpMeans, gMpSig, {
  min: 0, max: 17.6, border: false, ticksAt: gMpTicks, tickLength: 4,
  callback: (v, i) => gMpTickLabels[i]
}, { lines: [lineSet([[.5, 0], [.5, 15]], '#000', 1.5), lineSet([[.5, 16], [.5, 17.6]], '#000', 1.5)] });
label('TE', 1109, 1554, 26);
label('(KLRG1<sup>+</sup>CD127<sup>−</sup>)', 1109, 1582, 21);
label('MP', 1328, 1554, 26);
label('(KLRG1<sup>−</sup>CD127<sup>+</sup>)', 1328, 1582, 21);
label('% within', 942, 1720, 26, { rot: true });
label('GP33<sup>+</sup> cells', 973, 1720, 26, { rot: true });
legendBlock(1112, 1128, [1837, 1870, 1903, 1936], 26);

// ---------- rules and arrows ----------
const overlay = `<svg width="1418" height="1949" xmlns="http://www.w3.org/2000/svg">
  <line x1="34" y1="64" x2="613" y2="64" stroke="#333" stroke-width="1.4"/>
  ${arrow(17, 212, 17, 135)}
  ${arrow(17, 383, 17, 327)}
  ${arrow(131, 283, 614, 283)}
  ${arrow(106, 474, 614, 474)}
  <polyline points="124,170 146,170 146,310" fill="none" stroke="#111" stroke-width="2"/>
  ${arrow(146, 300, 146, 316, 2)}
  ${arrow(17, 1695, 17, 1653)}
  ${arrow(218, 1695, 218, 1653)}
  ${arrow(122, 1803, 164, 1803)}
  ${arrow(323, 1803, 800, 1803)}
</svg>`;
page.insertAdjacentHTML('beforeend', overlay);
</script>
</body>
</html>
